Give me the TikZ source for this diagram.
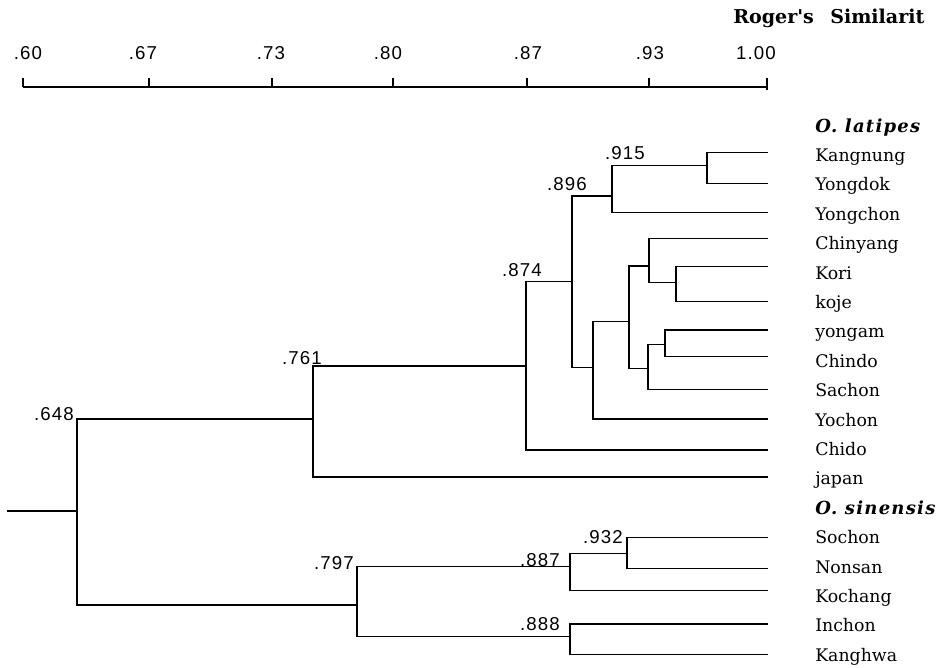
\documentclass[tikz,border=0pt]{standalone}
\usepackage{fontspec}
\setmainfont{DejaVu Serif}
\newfontfamily\numfont[LetterSpace=6]{Liberation Sans}
\newfontfamily\leaffont{DejaVu Serif}
\newfontfamily\grpfont[LetterSpace=7]{DejaVu Serif}
\tikzset{
  branch/.style={line width=0.9pt, line join=miter},
  leaf/.style={anchor=base west, inner sep=0pt, font=\leaffont\fontsize{13}{15}\selectfont},
  grp/.style={anchor=base west, inner sep=0pt, font=\grpfont\bfseries\itshape\fontsize{13.5}{15}\selectfont},
  val/.style={anchor=east, inner sep=0pt, font=\numfont\fontsize{14}{16}\selectfont},
  axlab/.style={anchor=center, inner sep=0pt, font=\numfont\fontsize{14}{16}\selectfont},
  ttl/.style={anchor=base west, inner sep=0pt, font=\leaffont\bfseries\fontsize{14.3}{16}\selectfont}
}
\begin{document}
\begin{tikzpicture}[x=0.75pt,y=-0.75pt]
\useasboundingbox (0,0) rectangle (940,668);

% title and axis
\node[ttl] (t1) at (733,23) {Roger's};
\node[ttl] (t2) at (830,23) {Similarit};
\draw[line width=0.8pt] (23,87) -- (767,87);
\foreach \x in {23,149,272,393,527,649,767} \draw[line width=0.8pt] (\x,78) -- (\x,87);
\draw[line width=0.8pt] (767,87) -- (767,90);
\node[axlab] (a60) at (28,53) {.60};
\node[axlab] (a67) at (143,53) {.67};
\node[axlab] (a73) at (271,53) {.73};
\node[axlab] (a80) at (388,53) {.80};
\node[axlab] (a87) at (528,53) {.87};
\node[axlab] (a93) at (650,53) {.93};
\node[axlab] (a100) at (756,53) {1.00};

% internal nodes
\coordinate (root) at (7,511);
\coordinate (n648) at (77,511);
\coordinate (n761) at (313,419);
\coordinate (n874) at (526,366);
\coordinate (n896) at (572,281.7);
\coordinate (n915) at (612,196);
\coordinate (n707) at (707,165.7);
\coordinate (n593) at (593,367.3);
\coordinate (n629) at (629,321.7);
\coordinate (n649) at (649,266);
\coordinate (n676) at (676,282.7);
\coordinate (n648b) at (648,368.3);
\coordinate (n665) at (665,344.3);
\coordinate (n797) at (357,605);
\coordinate (n887) at (570,566.7);
\coordinate (n932) at (627,553.3);
\coordinate (n888) at (570,636.7);

% leaf ends
\coordinate (eKangnung) at (768,152.3);
\coordinate (eYongdok) at (768,183.3);
\coordinate (eYongchon) at (768,212.3);
\coordinate (eChinyang) at (768,238.3);
\coordinate (eKori) at (768,266.7);
\coordinate (ekoje) at (768,301.7);
\coordinate (eyongam) at (768,330);
\coordinate (eChindo) at (768,356.7);
\coordinate (eSachon) at (768,389.3);
\coordinate (eYochon) at (768,419);
\coordinate (eChido) at (768,450);
\coordinate (ejapan) at (768,477);
\coordinate (eSochon) at (768,537.3);
\coordinate (eNonsan) at (768,568.3);
\coordinate (eKochang) at (768,590.7);
\coordinate (eInchon) at (768,624);
\coordinate (eKanghwa) at (768,654.3);

% branches
\draw[branch] (root) -- (n648);
\draw[branch] (n648) |- (n761);
\draw[branch] (n648) |- (n797);
\draw[branch] (n761) |- (n874);
\draw[branch] (n761) |- (ejapan);
\draw[branch] (n874) |- (n896);
\draw[branch] (n874) |- (eChido);
\draw[branch] (n896) |- (n915);
\draw[branch] (n896) |- (n593);
\draw[branch] (n915) |- (n707);
\draw[branch] (n915) |- (eYongchon);
\draw[branch] (n707) |- (eKangnung);
\draw[branch] (n707) |- (eYongdok);
\draw[branch] (n593) |- (n629);
\draw[branch] (n593) |- (eYochon);
\draw[branch] (n629) |- (n649);
\draw[branch] (n629) |- (n648b);
\draw[branch] (n649) |- (eChinyang);
\draw[branch] (n649) |- (n676);
\draw[branch] (n676) |- (eKori);
\draw[branch] (n676) |- (ekoje);
\draw[branch] (n648b) |- (n665);
\draw[branch] (n648b) |- (eSachon);
\draw[branch] (n665) |- (eyongam);
\draw[branch] (n665) |- (eChindo);
\draw[branch] (n797) |- (n887);
\draw[branch] (n797) |- (n888);
\draw[branch] (n887) |- (n932);
\draw[branch] (n887) |- (eKochang);
\draw[branch] (n932) |- (eSochon);
\draw[branch] (n932) |- (eNonsan);
\draw[branch] (n888) |- (eInchon);
\draw[branch] (n888) |- (eKanghwa);

% node values
\node[val] (v648) at (74,414) {.648};
\node[val] (v761) at (322,358) {.761};
\node[val] (v797) at (354,563) {.797};
\node[val] (v874) at (542,270) {.874};
\node[val] (v896) at (587,184) {.896};
\node[val] (v915) at (645,153) {.915};
\node[val] (v932) at (623,537) {.932};
\node[val] (v887) at (560,560) {.887};
\node[val] (v888) at (560,624) {.888};

% leaf labels
\node[grp] (gLat) at (815,132) {O. latipes};
\node[leaf] (lKangnung) at (815,161) {Kangnung};
\node[leaf] (lYongdok) at (815,190.5) {Yongdok};
\node[leaf] (lYongchon) at (815,220) {Yongchon};
\node[leaf] (lChinyang) at (815,249.5) {Chinyang};
\node[leaf] (lKori) at (815,279) {Kori};
\node[leaf] (lkoje) at (815,308) {koje};
\node[leaf] (lyongam) at (815,337.5) {yongam};
\node[leaf] (lChindo) at (815,367) {Chindo};
\node[leaf] (lSachon) at (815,396.5) {Sachon};
\node[leaf] (lYochon) at (815,426) {Yochon};
\node[leaf] (lChido) at (815,455) {Chido};
\node[leaf] (ljapan) at (815,484.5) {japan};
\node[grp] (gSin) at (815,514) {O. sinensis};
\node[leaf] (lSochon) at (815,543.5) {Sochon};
\node[leaf] (lNonsan) at (815,573) {Nonsan};
\node[leaf] (lKochang) at (815,602) {Kochang};
\node[leaf] (lInchon) at (815,631.5) {Inchon};
\node[leaf] (lKanghwa) at (815,661) {Kanghwa};
\end{tikzpicture}
\end{document}
